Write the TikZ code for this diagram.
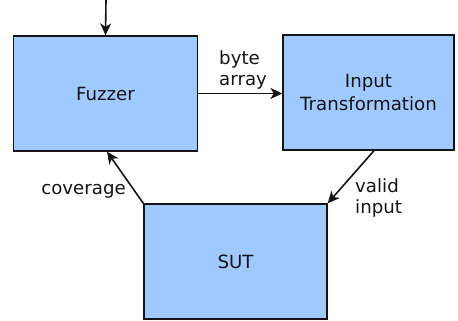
\documentclass[tikz,border=0pt]{standalone}
\usepackage{fontspec}
\setmainfont{DejaVu Sans}
\usetikzlibrary{arrows.meta}
\definecolor{boxfill}{RGB}{160,202,255}
\definecolor{ink}{RGB}{20,20,20}
\tikzset{
  block/.style={draw=ink, fill=boxfill, line width=1.3bp, inner sep=0pt,
    align=center, font=\fontsize{18.2bp}{22.7bp}\selectfont, text=ink},
  flow/.style={draw=ink, line width=1.6bp, -{Stealth[length=12bp, width=11bp, inset=3.5bp]}},
  tag/.style={inner sep=0pt, font=\fontsize{18.2bp}{21bp}\selectfont, text=ink}
}
\begin{document}
\begin{tikzpicture}[x=1bp, y=-1bp]
  \useasboundingbox (0,0) rectangle (458,320);

  % the three stages
  \node[block, minimum width=184bp, minimum height=115bp] (fuzz) at (105.5,93.5) {Fuzzer};
  \node[block, minimum width=171bp, minimum height=115bp] (trans) at (368.5,92.5) {Input\\Transformation};
  \node[block, minimum width=183bp, minimum height=115bp] (sut) at (235.5,261.5) {SUT};

  % entry point feeding the fuzzer
  \coordinate (entry) at (106,0);
  \draw[flow] (entry) -- (fuzz.north);

  % loop connectors
  \draw[flow] (fuzz.east) -- (fuzz.east -| trans.west);
  \draw[flow] ([xshift=5.5bp]trans.south) -- (sut.north east);
  \draw[flow] (sut.north west) -- ([xshift=1.5bp]fuzz.south);

  % connector labels
  \node[tag, align=left, anchor=west] (lbyte) at (219,70) {byte\\array};
  \node[tag, align=left, anchor=west] (lvalid) at (355,198) {valid\\input};
  \node[tag, anchor=east] (lcov) at (126,191) {coverage};
\end{tikzpicture}
\end{document}
